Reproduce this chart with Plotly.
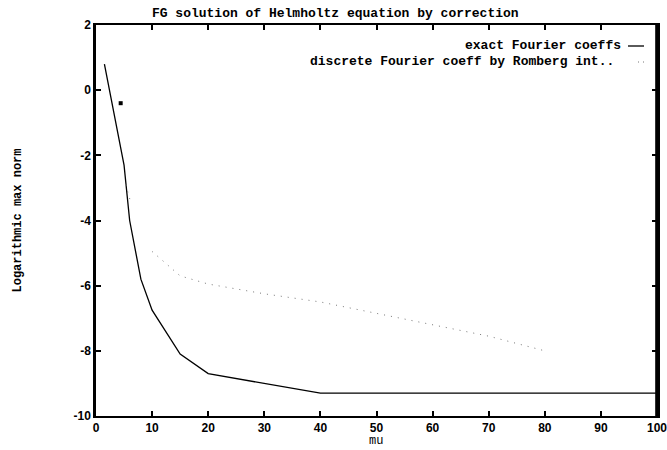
import plotly.graph_objects as go

# exact Fourier coeffs (solid line)
exact_mu = [1.5, 5, 6, 8, 10, 15, 20, 30, 40, 100]
exact_log = [0.8, -2.3, -4.0, -5.8, -6.75, -8.1, -8.7, -9.0, -9.3, -9.3]

# discrete Fourier coeff by Romberg int. (dotted line; gap where it is hidden)
disc_mu = [5.3, 6.2, None, 10, 15, 20, 25, 30, 40, 50, 60, 70, 80]
disc_log = [-2.9, -3.45, None, -4.95, -5.7, -5.95, -6.1, -6.25, -6.5, -6.85, -7.2, -7.55, -8.0]

# isolated mark near the start
stray_mu = [4.4]
stray_log = [-0.4]

x_ticks = [0, 10, 20, 30, 40, 50, 60, 70, 80, 90, 100]
x_ticktext = ["0", "10", "20", "30", "40", "50", "60", "70", "80", "90", "100"]
y_ticks = [-10, -8, -6, -4, -2, 0, 2]
y_ticktext = ["-10", "-8", "-6", "-4", "-2", "0", "2"]

title = "FG solution of Helmholtz equation by correction"
legend_names = ["exact Fourier coeffs", "discrete Fourier coeff by Romberg int.."]

mono = "Liberation Mono"

fig = go.Figure()
fig.add_trace(go.Scatter(x=exact_mu, y=exact_log, mode="lines",
                         line=dict(color="black", width=1.3),
                         name=legend_names[0], showlegend=False))
fig.add_trace(go.Scatter(x=disc_mu, y=disc_log, mode="lines", connectgaps=False,
                         line=dict(color="#777777", width=1, dash="1px,6px"),
                         name=legend_names[1], showlegend=False))
fig.add_trace(go.Scatter(x=stray_mu, y=stray_log, mode="markers",
                         marker=dict(color="black", size=4, symbol="square"),
                         showlegend=False, hoverinfo="skip"))

W, H = 667, 450
L, R, T, B = 96, 10, 25, 34

def px(xp):
    return (xp - L) / (W - L - R)

def py(yp):
    return 1 - (yp - T) / (H - T - B)

# gnuplot-style legend: text right-aligned, sample to its right
fig.add_annotation(x=px(623), y=py(45), xref="paper", yref="paper",
                   text=legend_names[0], showarrow=False, xanchor="right", yanchor="middle",
                   font=dict(family=mono, size=13, color="black", weight="bold"))
fig.add_annotation(x=px(616), y=py(62), xref="paper", yref="paper",
                   text=legend_names[1], showarrow=False, xanchor="right", yanchor="middle",
                   font=dict(family=mono, size=13, color="black", weight="bold"))
fig.add_shape(type="line", xref="paper", yref="paper",
              x0=px(628), x1=px(644), y0=py(46), y1=py(46),
              line=dict(color="black", width=1.3))
fig.add_shape(type="line", xref="paper", yref="paper",
              x0=px(638), x1=px(646), y0=py(62), y1=py(62),
              line=dict(color="#777777", width=1, dash="1px,4px"))
# right-hand frame line of the plot box
fig.add_shape(type="line", xref="paper", yref="paper",
              x0=0.999, x1=0.999, y0=0, y1=1,
              line=dict(color="black", width=2.5), layer="above")
# axis title for x placed as annotation (keeps the margins fixed)
fig.add_annotation(x=px(376), y=py(441), xref="paper", yref="paper",
                   text="mu", showarrow=False, xanchor="center", yanchor="middle",
                   font=dict(family=mono, size=12, color="black"))

fig.update_layout(
    width=W, height=H,
    margin=dict(l=L, r=R, t=T, b=B, autoexpand=False),
    paper_bgcolor="white", plot_bgcolor="white",
    title=dict(text=title, x=px(378), xanchor="center", y=1 - 12 / H, yanchor="middle",
               font=dict(family=mono, size=13, color="black", weight="bold")),
    showlegend=False,
)
fig.update_xaxes(range=[0, 100], tickvals=x_ticks, ticktext=x_ticktext,
                 showgrid=False, zeroline=False, ticklabeloverflow="allow",
                 showline=True, linecolor="black", linewidth=2, mirror="all",
                 ticks="inside", ticklen=5, tickwidth=1.5, tickcolor="black",
                 tickfont=dict(family="Liberation Sans", size=12, color="black", weight="bold"))
fig.update_yaxes(range=[-10, 2], tickvals=y_ticks, ticktext=y_ticktext,
                 showgrid=False, zeroline=False,
                 showline=True, linecolor="black", linewidth=2.5, mirror="all",
                 ticks="inside", ticklen=5, tickwidth=1.5, tickcolor="black",
                 tickfont=dict(family="Liberation Sans", size=12, color="black", weight="bold"),
                 title=dict(text="Logarithmic max norm", standoff=50,
                            font=dict(family=mono, size=12, color="black", weight="bold")))

fig.write_html("out.html")
